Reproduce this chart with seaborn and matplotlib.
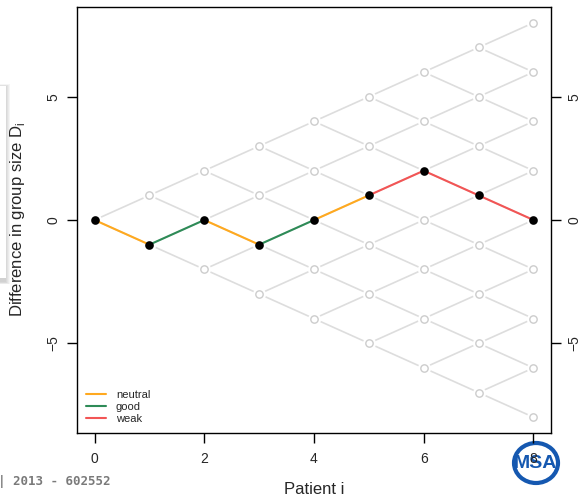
import numpy as np
import pandas as pd
import matplotlib
matplotlib.use("Agg")
import matplotlib.pyplot as plt
from matplotlib.patches import Ellipse, Rectangle
import seaborn as sns

# Data: one walk through the lattice of group size differences
patients = [0, 1, 2, 3, 4, 5, 6, 7, 8]
diffs = [0, -1, 0, -1, 0, 1, 2, 1, 0]
step_types = ["neutral", "good", "neutral", "good", "neutral", "weak", "weak", "weak"]
type_order = ["neutral", "good", "weak"]
type_colors = {"neutral": "#FFA91F", "good": "#2E8B57", "weak": "#F25555"}
x_ticks = [0, 2, 4, 6, 8]
y_ticks = [-5, 0, 5]

# lattice of all reachable states
nodes = pd.DataFrame([(i, j) for i in patients for j in range(-i, i + 1, 2)],
                     columns=["patient", "diff"])
edges = []
k = 0
for i in patients[:-1]:
    for j in range(-i, i + 1, 2):
        for dj in (1, -1):
            edges.append((k, i, j))
            edges.append((k, i + 1, j + dj))
            k += 1
edges = pd.DataFrame(edges, columns=["seg", "patient", "diff"])

# path segments
rows = []
for s, t in enumerate(step_types):
    rows.append((s, t, patients[s], diffs[s]))
    rows.append((s, t, patients[s + 1], diffs[s + 1]))
path = pd.DataFrame(rows, columns=["seg", "type", "patient", "diff"])
pts = pd.DataFrame({"patient": patients, "diff": diffs})

sns.set_style("white")
plt.rcParams["font.family"] = ["Liberation Sans", "DejaVu Sans"]

W, H = 580, 496
fig = plt.figure(figsize=(W / 100, H / 100), dpi=100)
ax = fig.add_axes([77 / W, 1 - 433 / H, 474 / W, 426 / H])

def px(x, y):
    return (x / W, 1 - y / H)

sns.lineplot(data=edges, x="patient", y="diff", units="seg", estimator=None,
             color="#DDDDDD", linewidth=1.2, ax=ax, zorder=1)
sns.scatterplot(data=nodes, x="patient", y="diff", s=90, color="white",
                linewidth=0, ax=ax, zorder=2)
sns.scatterplot(data=nodes, x="patient", y="diff", s=28, facecolor="white",
                edgecolor="#CCCCCC", linewidth=1.0, ax=ax, zorder=3)
sns.lineplot(data=path, x="patient", y="diff", units="seg", estimator=None,
             hue="type", hue_order=type_order, palette=type_colors,
             linewidth=1.5, ax=ax, zorder=4)
sns.scatterplot(data=pts, x="patient", y="diff", s=38, color="black",
                linewidth=0, ax=ax, zorder=5, legend=False)

handles, labels = ax.get_legend_handles_labels()
ax.legend(handles, labels, loc="lower left", frameon=False, fontsize=8,
          handlelength=1.8, handletextpad=0.9, labelspacing=0.2,
          borderaxespad=0.4)

ax.set_xlim(-0.32, 8.32)
ax.set_ylim(-8.64, 8.64)
ax.set_xticks(x_ticks)
ax.set_yticks(y_ticks)
ax.set_yticklabels(["\u22125", "0", "5"])
ax.tick_params(axis="both", direction="out", length=7, width=1, color="black",
               labelsize=10, left=True, bottom=True, right=True,
               labelright=True)
ax.tick_params(axis="x", pad=7)
ax.tick_params(axis="y", pad=5)
for t in ax.yaxis.get_major_ticks():
    t.label1.set_rotation(90)
    t.label1.set_va("center")
    t.label2.set_rotation(90)
    t.label2.set_va("center")
for sp in ax.spines.values():
    sp.set_visible(True)
    sp.set_color("black")
    sp.set_linewidth(1.0)
ax.set_xlabel("")
ax.set_ylabel("")
fig.text(*px(314, 490), "Patient i", ha="center", va="center", fontsize=12)
fig.text(*px(18, 219), "Difference in group size D$_\\mathregular{i}$",
         ha="center", va="center", rotation=90, fontsize=12)

# slide decorations
for k in range(5):
    fig.patches.append(Rectangle(px(-10, 282 + k * 0.6), (16 + k) / W, (196 + k) / H,
                                 transform=fig.transFigure, facecolor="#555555",
                                 alpha=0.06, edgecolor="none", zorder=-2))
fig.patches.append(Rectangle(px(-10, 278), 16 / W, 192 / H, transform=fig.transFigure,
                             facecolor="white", edgecolor="none", zorder=-1))
fig.text(*px(-2, 481), "| 2013 - 602552", ha="left", va="center", fontsize=9,
         fontweight="bold", color="#7A7A7A", family="DejaVu Sans Mono")
fig.patches.append(Ellipse(px(536, 463), 44 / W, 40 / H, transform=fig.transFigure,
                           facecolor="white", edgecolor="#1558B0", linewidth=3,
                           zorder=-1))
fig.text(*px(535, 464), "MSA", ha="center", va="center", fontsize=14,
         color="#1558B0", fontweight="bold", zorder=-1)

fig.savefig("out.png", dpi=100)
